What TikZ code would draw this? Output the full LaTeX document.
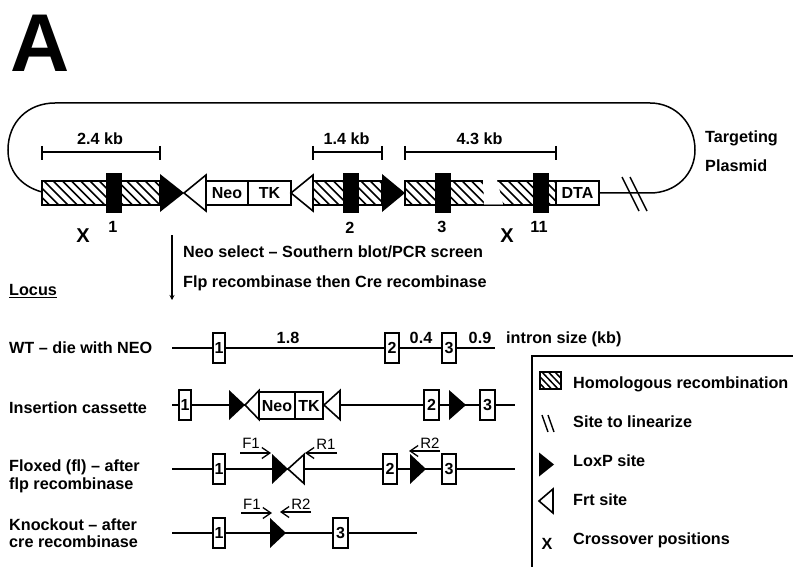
\documentclass[tikz,border=0pt]{standalone}
\usepackage{fontspec}
\setmainfont{Liberation Sans}
\usetikzlibrary{arrows.meta}
\tikzset{
  x=1pt,y=-1pt,
  lbl/.style={font=\fontsize{16.2}{18}\selectfont\bfseries,inner sep=0pt,anchor=base west,yshift=-5.5pt},
  ctr/.style={font=\fontsize{16.2}{18}\selectfont\bfseries,inner sep=0pt,anchor=base,yshift=-5.5pt},
  thin lbl/.style={font=\fontsize{15}{17}\selectfont,inner sep=0pt,anchor=base,yshift=-5.5pt},
  wire/.style={line width=1.5pt},
  dim/.style={line width=1.3pt},
  exon/.style={draw,line width=1.5pt,fill=white,inner sep=0pt,text height=11.5pt,text depth=0pt,font=\fontsize{16}{18}\selectfont\bfseries},
  primer/.style={line width=1.3pt,-{Straight Barb[length=8pt,width=11pt,line width=1.3pt]}},
}
% exon box: name, x1, x2, ymid, halfheight, label
\newcommand{\exonbox}[6]{\node[exon,minimum width=#3pt-#2pt,minimum height=2pt*#5] (#1) at ({(#2+#3)/2},#4) {#6};}
% loxp pointing right
\newcommand{\loxp}[4]{\fill (#1,#3-#4) -- (#2,#3) -- (#1,#3+#4) -- cycle;}
% frt pointing left: apex x, base x
\newcommand{\frt}[4]{\draw[line width=1.6pt,fill=white,line join=miter] (#2,#3-#4) -- (#1,#3) -- (#2,#3+#4) -- cycle;}
% hatched bar
\newcommand{\hatchbar}[4]{%
  \begin{scope}
    \clip (#1,#3) rectangle (#2,#4);
    \fill[white] (#1,#3) rectangle (#2,#4);
    \foreach \k in {-5,...,20}{\draw[line width=1.6pt] ({#1+\k*9.2},#3-2) -- ({#1+\k*9.2+28},#4+2);}
  \end{scope}
  \draw[line width=1.3pt] (#1,#3) rectangle (#2,#4);}
\begin{document}
\begin{tikzpicture}
\useasboundingbox (0,0) rectangle (793,567);
\fill[white] (0,0) rectangle (793,567);
\node[inner sep=0pt,anchor=base west,font=\fontsize{82}{82}\selectfont\bfseries] (title) at (10,72) {A};

% plasmid backbone
\coordinate (pl) at (42,192);
\coordinate (pr) at (599,193);
\draw[wire] (pl) .. controls (20,186) and (8,170) .. (8,150)
   .. controls (8,122) and (28,103) .. (55,103) -- (650,103)
   .. controls (676,103) and (695,124) .. (695,150)
   .. controls (695,174) and (676,193) .. (650,193) -- (pr);
\draw[line width=1.4pt] (622,177) -- (639,211);
\draw[line width=1.4pt] (630,177) -- (647,211);

% hatch bars
\hatchbar{42}{160}{181}{205}
\hatchbar{313}{382}{181}{205}
\hatchbar{405}{556}{181}{205}
\fill[white] (483,180) -- (497,180) -- (503,204) -- (484,204) -- cycle;
\draw[line width=1pt,gray] (484,205) -- (503,205);
\foreach \a/\b in {106/122,343/359,435/451,533/549}{\fill (\a,173) rectangle (\b,213);}
\loxp{160}{184}{193}{19}
\frt{184}{206}{193}{18}
\node[exon,minimum width=42pt,minimum height=24pt] (neoA) at (227,193) {Neo};
\node[exon,minimum width=43pt,minimum height=24pt] (tkA) at (269.5,193) {TK};
\frt{291}{313}{193}{18}
\loxp{382}{405}{193}{19}
\node[exon,minimum width=43pt,minimum height=24pt] (dta) at (577.5,193) {DTA};

% dimensions
\foreach \a/\b/\t in {42/160/2.4 kb,313/382/1.4 kb,405/556/4.3 kb}{
  \draw[dim] (\a,146) -- (\a,160) (\a,152) -- (\b,152) (\b,146) -- (\b,160);
  \node[ctr] at ({(\a+\b)/2-1},139) {\t};
}
\node[ctr,font=\fontsize{20}{22}\selectfont\bfseries,yshift=-1.5pt] (x1) at (83,235) {X};
\node[ctr,font=\fontsize{20}{22}\selectfont\bfseries,yshift=-1.5pt] (x2) at (507,235) {X};
\node[ctr] (n1) at (113,227) {1};
\node[ctr] (n2) at (350,228) {2};
\node[ctr] (n3) at (442,227) {3};
\node[ctr] (n11) at (539,227) {11};
\node[lbl] (tp1) at (705,137) {Targeting};
\node[lbl] (tp2) at (705,166) {Plasmid};

% selection arrow
\coordinate (sa) at (172,235);
\coordinate (sb) at (172,300);
\draw[line width=1.2pt,-{Stealth[length=5pt,width=5pt]}] (sa) -- (sb);
\node[lbl] (s1) at (183,252) {Neo select – Southern blot/PCR screen};
\node[lbl] (s2) at (183,282) {Flp recombinase then Cre recombinase};
\node[lbl] (locus) at (9,290) {\underline{Locus}};

% WT
\node[lbl] (r1) at (9,348) {WT – die with NEO};
\coordinate (w1) at (172,348); \coordinate (w2) at (495,348);
\draw[wire] (w1) -- (w2);
\exonbox{wa}{213}{225}{348}{15}{1}
\exonbox{wb}{385}{399}{348}{15}{2}
\exonbox{wc}{442}{456}{348}{15}{3}
\node[ctr] (i1) at (288,338) {1.8};
\node[ctr] (i2) at (421,338) {0.4};
\node[ctr] (i3) at (480,338) {0.9};
\node[lbl] (i4) at (506,338) {intron size (kb)};

% Insertion
\node[lbl] (r2) at (9,408) {Insertion cassette};
\coordinate (c1) at (172,405); \coordinate (c2) at (515,405);
\draw[wire] (c1) -- (c2);
\exonbox{ca}{179}{191}{405}{15}{1}
\loxp{229}{245}{405}{15}
\frt{245}{259}{405}{14.5}
\node[exon,minimum width=36pt,minimum height=27pt] (neoB) at (277,405.5) {Neo};
\node[exon,minimum width=28pt,minimum height=27pt] (tkB) at (309,405.5) {TK};
\frt{324}{340}{405}{14.5}
\exonbox{cb}{424}{439}{405}{15}{2}
\loxp{449}{466}{405}{15}
\exonbox{cc}{480}{495}{405}{15}{3}

% Floxed
\node[lbl] (r3a) at (9,466) {Floxed (fl) – after};
\node[lbl] (r3b) at (9,484) {flp recombinase};
\coordinate (f1) at (172,469); \coordinate (f2) at (515,469);
\draw[wire] (f1) -- (f2);
\exonbox{fa}{213}{225}{469}{15}{1}
\loxp{272}{288}{469}{15}
\frt{288}{304}{469}{14.5}
\exonbox{fb}{383}{397}{469}{15}{2}
\loxp{410}{426}{469}{15}
\exonbox{fc}{442}{456}{469}{15}{3}
\coordinate (pf1a) at (240,453); \coordinate (pf1b) at (271,453);
\draw[primer] (pf1a) -- (pf1b);
\node[thin lbl] (tf1) at (251,443) {F1};
\coordinate (pr1a) at (337,453); \coordinate (pr1b) at (305,453);
\draw[primer] (pr1a) -- (pr1b);
\node[thin lbl] (tr1) at (326,444) {R1};
\coordinate (pr2a) at (440,451); \coordinate (pr2b) at (409,451);
\draw[primer] (pr2a) -- (pr2b);
\node[thin lbl] (tr2) at (430,443) {R2};

% Knockout
\node[lbl] (r4a) at (9,525) {Knockout – after};
\node[lbl] (r4b) at (9,542) {cre recombinase};
\coordinate (k1) at (172,533); \coordinate (k2) at (417,533);
\draw[wire] (k1) -- (k2);
\exonbox{ka}{213}{225}{533}{15}{1}
\loxp{270}{286}{533}{15}
\exonbox{kc}{333}{348}{533}{15}{3}
\coordinate (kf1a) at (241,513); \coordinate (kf1b) at (272,513);
\draw[primer] (kf1a) -- (kf1b);
\node[thin lbl] (tkf1) at (252,504) {F1};
\coordinate (kr2a) at (311,512); \coordinate (kr2b) at (280,512);
\draw[primer] (kr2a) -- (kr2b);
\node[thin lbl] (tkr2) at (301,504) {R2};

% legend
\draw[line width=1.5pt] (800,356) -- (532,356) -- (532,575);
\begin{scope}
 \clip (540,372) rectangle (561,389);
 \foreach \k in {-3,...,4}{\draw[line width=1.5pt] ({540+\k*6.5},370) -- ({540+\k*6.5+20},391);}
\end{scope}
\draw[line width=1.3pt] (540,372) rectangle (561,389);
\node[lbl] (l1) at (573,383) {Homologous recombination};
\draw[line width=1.4pt] (542,415) -- (548,432) (548,415) -- (554,432);
\node[lbl] (l2) at (573,422) {Site to linearize};
\loxp{539}{554}{464.5}{12}
\node[lbl] (l3) at (573,461) {LoxP site};
\frt{539}{553}{501}{12}
\node[lbl] (l4) at (573,500) {Frt site};
\node[ctr] (lx) at (547,544) {X};
\node[lbl] (l5) at (573,539) {Crossover positions};
\end{tikzpicture}
\end{document}
